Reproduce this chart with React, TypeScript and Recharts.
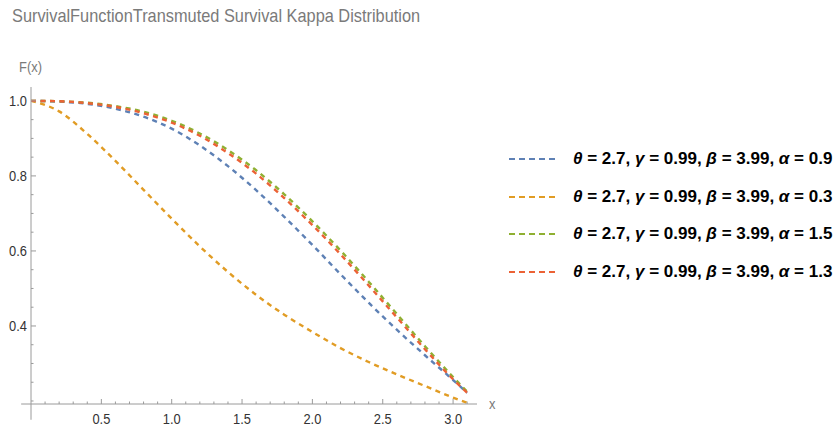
import { LineChart, Line, XAxis, YAxis, Legend, ReferenceLine } from "recharts";

// x grid the curves were read at
const xValues = [0, 0.2, 0.4, 0.6, 0.8, 1.0, 1.2, 1.4, 1.6, 1.8, 2.0, 2.2, 2.4, 2.6, 2.8, 3.0, 3.1];

// survival curves
const survAlpha09 = [1.0, 0.998, 0.992, 0.979, 0.958, 0.926, 0.881, 0.826, 0.762, 0.691, 0.616, 0.538, 0.462, 0.39, 0.322, 0.256, 0.222];
const survAlpha03 = [1.0, 0.972, 0.912, 0.84, 0.763, 0.686, 0.612, 0.544, 0.483, 0.43, 0.384, 0.341, 0.304, 0.271, 0.24, 0.209, 0.195];
const survAlpha15 = [1.0, 0.999, 0.995, 0.986, 0.971, 0.947, 0.913, 0.869, 0.815, 0.751, 0.679, 0.601, 0.518, 0.432, 0.346, 0.264, 0.225];
const survAlpha13 = [1.0, 0.999, 0.994, 0.984, 0.967, 0.942, 0.907, 0.861, 0.806, 0.741, 0.669, 0.591, 0.508, 0.423, 0.338, 0.258, 0.222];

const theta = "2.7";
const gamma = "0.99";
const beta = "3.99";
const alphas = ["0.9", "0.3", "1.5", "1.3"];
const colors = ["#5E81B5", "#E19C24", "#8FB032", "#EB6235"];
const seriesKeys = ["a09", "a03", "a15", "a13"];
const seriesValues = [survAlpha09, survAlpha03, survAlpha15, survAlpha13];

const xTicks = [0.1, 0.2, 0.3, 0.4, 0.5, 0.6, 0.7, 0.8, 0.9, 1.0, 1.1, 1.2, 1.3, 1.4, 1.5, 1.6, 1.7, 1.8, 1.9, 2.0, 2.1, 2.2, 2.3, 2.4, 2.5, 2.6, 2.7, 2.8, 2.9, 3.0, 3.1];
const xTickLabels = ["0.5", "1.0", "1.5", "2.0", "2.5", "3.0"];
const yTicks = [0.2, 0.25, 0.3, 0.35, 0.4, 0.45, 0.5, 0.55, 0.6, 0.65, 0.7, 0.75, 0.8, 0.85, 0.9, 0.95, 1.0];
const yTickLabels = ["0.4", "0.6", "0.8", "1.0"];

const X_MIN = 0;
const X_MAX = 3.17;
const Y_MIN = 0.192;
const Y_MAX = 1.037;

const data = xValues.map((x, i) => {
  const row: Record<string, number> = { x };
  seriesKeys.forEach((k, j) => (row[k] = seriesValues[j][i]));
  return row;
});

const AXIS = "#9a9a9a";
const FONT = "'Liberation Sans', Arial, sans-serif";
const NARROW = 0.86;

const XTick = (props: any) => {
  const { x, y, payload } = props;
  const label = Number(payload.value).toFixed(1);
  const major = xTickLabels.includes(label);
  return (
    <g>
      <line x1={x} x2={x} y1={y} y2={y - (major ? 5 : 2.5)} stroke={AXIS} />
      {major && (
        <text
          transform={`translate(${x},${y + 20}) scale(${NARROW},1)`}
          textAnchor="middle"
          fontSize={15}
          fill="#333"
          fontFamily={FONT}
        >
          {label}
        </text>
      )}
    </g>
  );
};

const YTick = (props: any) => {
  const { x, y, payload } = props;
  const label = Number(payload.value).toFixed(1);
  const major = yTickLabels.includes(label) && Math.abs(Number(payload.value) - Number(label)) < 1e-6;
  return (
    <g>
      <line x1={x} x2={x + (major ? 5 : 2.5)} y1={y} y2={y} stroke={AXIS} />
      {major && (
        <text
          transform={`translate(${x - 4},${y + 5}) scale(${NARROW},1)`}
          textAnchor="end"
          fontSize={15}
          fill="#333"
          fontFamily={FONT}
        >
          {label}
        </text>
      )}
    </g>
  );
};

const LegendLabel = ({ alpha }: { alpha: string }) => (
  <span>
    <i>θ</i> = {theta}, <i>γ</i> = {gamma}, <i>β</i> = {beta}, <i>α</i> = {alpha}
  </span>
);

const renderLegend = () => (
  <div style={{ fontFamily: FONT, fontWeight: "bold", fontSize: 17, color: "#000" }}>
    {alphas.map((a, i) => (
      <div key={i} style={{ display: "flex", alignItems: "center", height: 37.7, whiteSpace: "nowrap" }}>
        <svg width={52} height={6} style={{ marginRight: 13 }}>
          <line x1={1} x2={51} y1={3} y2={3} stroke={colors[i]} strokeWidth={2} strokeDasharray="6 4" />
        </svg>
        <LegendLabel alpha={a} />
      </div>
    ))}
  </div>
);

const narrowText = { transform: `scaleX(${NARROW})`, transformOrigin: "left top", whiteSpace: "nowrap" as const };

export default function App() {
  return (
    <div style={{ position: "absolute", left: 0, top: 0, width: 834, height: 426, overflow: "hidden", background: "#fff" }}>
      <div style={{ position: "absolute", left: 12, top: 5, fontFamily: FONT, fontSize: 19, color: "#7a7a7a", ...narrowText }}>
        SurvivalFunctionTransmuted Survival Kappa Distribution
      </div>
      <div style={{ position: "absolute", left: 19, top: 58, fontFamily: FONT, fontSize: 15, color: "#7a7a7a", ...narrowText }}>F(x)</div>
      <div style={{ position: "absolute", left: 489, top: 395, fontFamily: FONT, fontSize: 15, color: "#7a7a7a", ...narrowText }}>x</div>
      <LineChart width={834} height={426} data={data} margin={{ top: 87, right: 357, bottom: 21, left: 30 }}>
        <XAxis
          type="number"
          dataKey="x"
          domain={[X_MIN, X_MAX]}
          allowDataOverflow
          ticks={xTicks}
          interval={0}
          height={1}
          tickSize={0}
          tickMargin={0}
          tick={<XTick />}
          axisLine={{ stroke: AXIS }}
        />
        <YAxis
          type="number"
          domain={[Y_MIN, Y_MAX]}
          allowDataOverflow
          ticks={yTicks}
          interval={0}
          width={1}
          tickSize={0}
          tickMargin={0}
          tick={<YTick />}
          axisLine={{ stroke: AXIS }}
        />
        {/* axis overhang past the origin, as in the source plot */}
        <ReferenceLine
          segment={[{ x: -0.07, y: Y_MIN }, { x: X_MIN, y: Y_MIN }]}
          stroke={AXIS}
          ifOverflow="visible"
        />
        <ReferenceLine
          segment={[{ x: X_MIN, y: Y_MIN }, { x: X_MIN, y: 0.15 }]}
          stroke={AXIS}
          ifOverflow="visible"
        />
        <Legend
          layout="vertical"
          align="center"
          verticalAlign="middle"
          content={renderLegend}
          wrapperStyle={{ left: 508, top: 140, width: 330 }}
        />
        {seriesKeys.map((k, i) => (
          <Line
            key={k}
            type="monotone"
            dataKey={k}
            stroke={colors[i]}
            strokeWidth={2.4}
            strokeDasharray="5 4.5"
            dot={false}
            isAnimationActive={false}
          />
        ))}
      </LineChart>
    </div>
  );
}
